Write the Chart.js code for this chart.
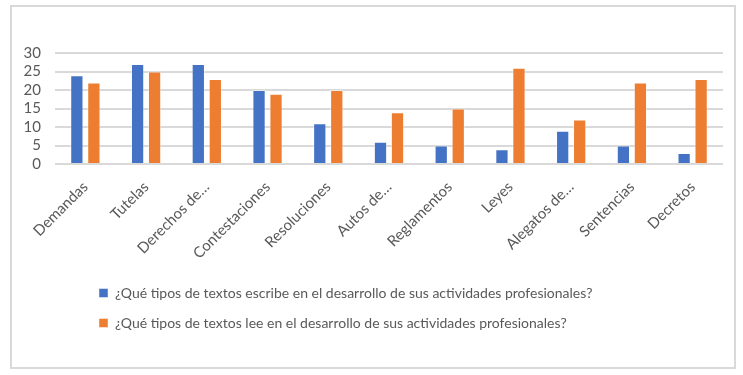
<!DOCTYPE html>
<html>
<head>
<meta charset="utf-8">
<script src="https://cdn.jsdelivr.net/npm/chart.js@4.4.1/dist/chart.umd.min.js"></script>
<style>
html,body{margin:0;padding:0;background:#fff;}
#box{position:absolute;left:10px;top:5px;width:722px;height:360px;border:2px solid #d9d9d9;background:#fff;}
canvas{display:block;}
</style>
</head>
<body>
<div id="box"><canvas id="c" width="722" height="360"></canvas></div>
<script>
const categories = ["Demandas","Tutelas","Derechos de…","Contestaciones","Resoluciones","Autos de…","Reglamentos","Leyes","Alegatos de…","Sentencias","Decretos"];
const seriesNames = ["¿Qué tipos de textos escribe en el desarrollo de sus actividades profesionales?","¿Qué tipos de textos lee en el desarrollo de sus actividades profesionales?"];
const escribe = [24,27,27,20,11,6,5,4,9,5,3];
const lee = [22,25,23,19,20,14,15,26,12,22,23];
const yTicks = [0,5,10,15,20,25,30];

const FONT = "Lato";
const legendShift = {
  id:'legendShift',
  afterLayout(chart){ if(chart.legend){ chart.legend.left += 71; chart.legend.right += 71; } }
};

new Chart(document.getElementById('c'), {
  type:'bar',
  data:{
    labels: categories,
    datasets:[
      {label: seriesNames[0], data: escribe, backgroundColor:'#4472c4', borderColor:'rgba(255,255,255,0.45)', borderWidth:1, barPercentage:0.78, categoryPercentage:0.56},
      {label: seriesNames[1], data: lee, backgroundColor:'#ed7d31', borderColor:'rgba(255,255,255,0.45)', borderWidth:1, barPercentage:0.78, categoryPercentage:0.56}
    ]
  },
  options:{
    responsive:false,
    animation:false,
    layout:{padding:{left:0,right:11,top:46,bottom:27}},
    plugins:{
      legend:{
        position:'bottom', align:'start',
        labels:{boxWidth:9, boxHeight:9, padding:16, color:'#595959', font:{family:FONT,size:14}}
      },
      tooltip:{enabled:false}
    },
    scales:{
      x:{
        grid:{display:false, drawTicks:false},
        border:{display:false},
        ticks:{color:'#595959', font:{family:FONT,size:15}, minRotation:45, maxRotation:45, padding:14, autoSkip:false},
        afterFit(s){ s.height = 106; }
      },
      y:{
        min:0, max:30,
        afterBuildTicks(s){ s.ticks = yTicks.map(v=>({value:v})); },
        grid:{color:'#d9d9d9', lineWidth:2, drawTicks:false},
        border:{display:false},
        ticks:{color:'#595959', font:{family:FONT,size:15}, padding:14, autoSkip:false, stepSize:5},
        afterFit(s){ s.width = 43; }
      }
    }
  },
  plugins:[legendShift]
});
</script>
</body>
</html>
